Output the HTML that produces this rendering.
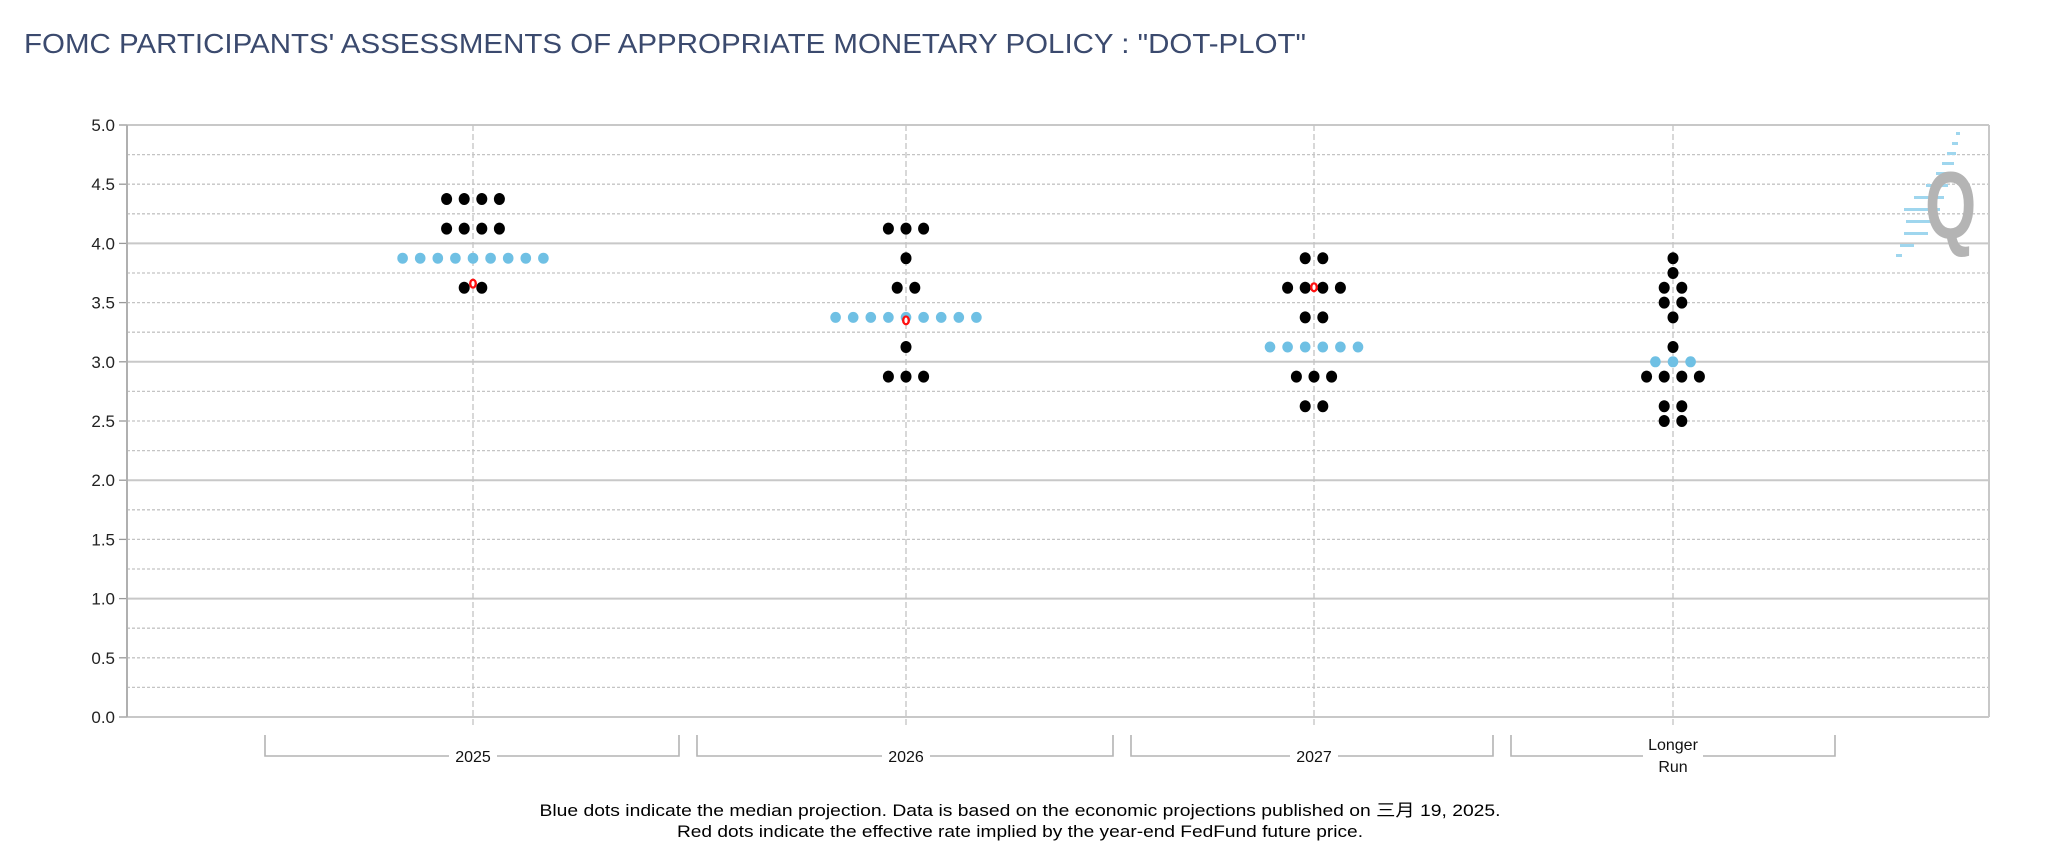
<!DOCTYPE html>
<html><head><meta charset="utf-8"><style>
html,body{margin:0;padding:0;background:#fff;width:2048px;height:866px;overflow:hidden}
svg{display:block}
text{font-family:"Liberation Sans","Noto Sans CJK SC",sans-serif}
</style></head><body>
<svg id="s" width="2048" height="866" xmlns="http://www.w3.org/2000/svg">
<text x="24" y="53" font-size="28" fill="#3b4a6e" textLength="1282" lengthAdjust="spacingAndGlyphs">FOMC PARTICIPANTS' ASSESSMENTS OF APPROPRIATE MONETARY POLICY : "DOT-PLOT"</text>
<g id="grid"></g>
<g id="logo">
<g fill="#9fd6ee">
<rect x="1956" y="132" width="4" height="3"/><rect x="1952" y="142" width="6" height="3"/><rect x="1947" y="152" width="9" height="3"/><rect x="1942" y="162" width="12" height="3"/>
<rect x="1936" y="172" width="16" height="3"/><rect x="1926" y="184" width="22" height="3"/><rect x="1914" y="196" width="30" height="3"/>
<rect x="1904" y="208" width="36" height="3"/><rect x="1906" y="220" width="30" height="3"/><rect x="1904" y="232" width="24" height="3"/>
<rect x="1900" y="244" width="14" height="3"/><rect x="1896" y="254" width="6" height="3"/>
</g>
<text x="0" y="0" font-size="66" font-weight="bold" fill="#b4b4b4" transform="translate(1925,238) scale(1,1.45)">Q</text>
</g>
<g id="dots"></g>
<g font-size="17" fill="#000" text-anchor="middle">
<text x="1020" y="816" textLength="961" lengthAdjust="spacingAndGlyphs">Blue dots indicate the median projection. Data is based on the economic projections published on 三月 19, 2025.</text>
<text x="1020" y="837" textLength="686" lengthAdjust="spacingAndGlyphs">Red dots indicate the effective rate implied by the year-end FedFund future price.</text>
</g>
</svg>
<script>
var NS="http://www.w3.org/2000/svg";
var L=127,R=1989,T=125,B=717,U=(B-T)/5;
function y(v){return B-v*U;}
function el(p,t,a,txt){var e=document.createElementNS(NS,t);for(var k in a)e.setAttribute(k,a[k]);if(txt)e.textContent=txt;p.appendChild(e);return e;}
var g=document.getElementById('grid');
for(var i=0;i<=20;i++){var v=i*0.25,yy=y(v),solid=(i%4==0);
 if(solid) el(g,'line',{x1:L,x2:R,y1:yy,y2:yy,stroke:'#c8c8c8','stroke-width':2});
 else el(g,'line',{x1:L,x2:R,y1:yy,y2:yy,stroke:'#c4c4c4','stroke-width':1.3,'stroke-dasharray':'3,2'});
 if(i%2==0){el(g,'line',{x1:L-8,x2:L,y1:yy,y2:yy,stroke:'#999','stroke-width':1.3});
 el(g,'text',{x:115,y:yy+6,'font-size':17,'text-anchor':'end',fill:'#222'},(v).toFixed(1));}
}
el(g,'line',{x1:L,x2:L,y1:T,y2:B,stroke:'#b0b0b0','stroke-width':2});
el(g,'line',{x1:R,x2:R,y1:T,y2:B,stroke:'#c8c8c8','stroke-width':2});
var cols=[473,906,1314,1673];
cols.forEach(function(x){el(g,'line',{x1:x,x2:x,y1:T,y2:B+10,stroke:'#c4c4c4','stroke-width':1.3,'stroke-dasharray':'6,3'});});
var br=[[265,679,'2025'],[697,1113,'2026'],[1131,1493,'2027'],[1511,1835,'']];
br.forEach(function(b,i){var c=cols[i];
 el(g,'polyline',{points:b[0]+',735 '+b[0]+',756 '+b[1]+',756 '+b[1]+',735',fill:'none',stroke:'#b4b4b4','stroke-width':1.6});
 if(b[2]){el(g,'rect',{x:c-24,y:746,width:48,height:16,fill:'#fff'});el(g,'text',{x:c,y:762,'font-size':16,'text-anchor':'middle',fill:'#111'},b[2]);}
 else{el(g,'rect',{x:c-30,y:740,width:60,height:30,fill:'#fff'});el(g,'text',{x:c,y:750,'font-size':16,'text-anchor':'middle',fill:'#111'},'Longer');el(g,'text',{x:c,y:772,'font-size':16,'text-anchor':'middle',fill:'#111'},'Run');}
});
var S=17.6,d=document.getElementById('dots');
function row(ci,v,n,col){for(var k=0;k<n;k++){var x=cols[ci]+(k-(n-1)/2)*S;
 if(col=='b') el(d,'ellipse',{cx:x,cy:y(v),rx:5.3,ry:5.5,fill:'#6fc0e4'});
 else el(d,'ellipse',{cx:x,cy:y(v),rx:5.5,ry:6,fill:'#000'});}}
function red(ci,v){el(d,'ellipse',{cx:cols[ci],cy:y(v),rx:4,ry:5,fill:'#ff1010'});el(d,'ellipse',{cx:cols[ci],cy:y(v),rx:1.6,ry:2.8,fill:'#fff'});}
row(0,4.375,4);row(0,4.125,4);row(0,3.875,9,'b');row(0,3.625,2);red(0,3.66);
row(1,4.125,3);row(1,3.875,1);row(1,3.625,2);row(1,3.375,9,'b');red(1,3.35);row(1,3.125,1);row(1,2.875,3);
row(2,3.875,2);row(2,3.625,4);red(2,3.63);row(2,3.375,2);row(2,3.125,6,'b');row(2,2.875,3);row(2,2.625,2);
row(3,3.875,1);row(3,3.75,1);row(3,3.625,2);row(3,3.5,2);row(3,3.375,1);row(3,3.125,1);row(3,3.0,3,'b');row(3,2.875,4);row(3,2.625,2);row(3,2.5,2);
</script>
</body></html>
